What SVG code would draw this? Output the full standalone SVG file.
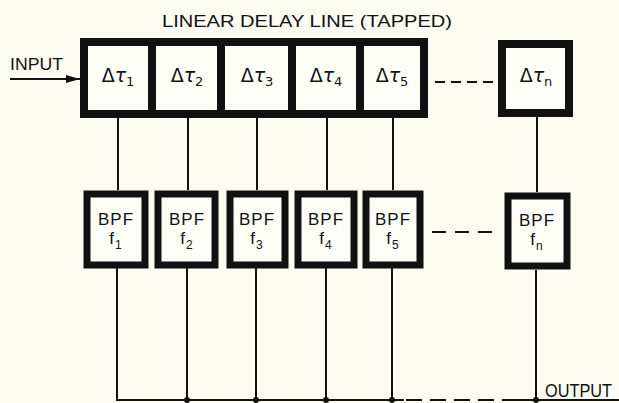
<svg xmlns="http://www.w3.org/2000/svg" width="619" height="403" viewBox="0 0 619 403">
  <defs>
    <style>
      .box { fill: #fefef8; stroke: #111; stroke-width: 8; }
      .bpf { fill: #fefef8; stroke: #111; stroke-width: 7; }
      .wire { stroke: #111; stroke-width: 2; fill: none; }
      .dash { stroke: #111; stroke-width: 2; fill: none; }
      .lbl { font-family: "Liberation Sans", Arial, sans-serif; fill: #111; }
      .dt { font-family: "DejaVu Sans", "Liberation Sans", sans-serif; font-size: 19px; fill: #111; }
      .tau { font-style: italic; }
      .sub { font-size: 13px; font-style: normal; }
      .bp { font-family: "Liberation Sans", Arial, sans-serif; font-size: 17px; fill: #111; text-anchor: middle; letter-spacing: 1px; }
      .dot { fill: #111; }
    </style>
    <marker id="arrow" markerWidth="14" markerHeight="10" refX="14" refY="5" orient="auto" markerUnits="userSpaceOnUse">
      <path d="M0,1 L14,5 L0,9 Z" fill="#111"/>
    </marker>
  </defs>
  <rect width="619" height="403" fill="#fcfcf3"/>

  <text class="lbl" x="162" y="27" font-size="17" textLength="290" lengthAdjust="spacingAndGlyphs">LINEAR DELAY LINE (TAPPED)</text>
  <text class="lbl" x="10" y="70" font-size="16" textLength="53" lengthAdjust="spacingAndGlyphs">INPUT</text>
  <text class="lbl" x="545" y="397" font-size="18" textLength="67" lengthAdjust="spacingAndGlyphs">OUTPUT</text>

  <g id="connectors">
    <line class="wire" x1="10" y1="79" x2="80" y2="79" marker-end="url(#arrow)"/>
    <line class="wire" x1="118" y1="114" x2="118" y2="190"/>
    <line class="wire" x1="188" y1="114" x2="188" y2="190"/>
    <line class="wire" x1="257" y1="114" x2="257" y2="190"/>
    <line class="wire" x1="327" y1="114" x2="327" y2="190"/>
    <line class="wire" x1="393" y1="114" x2="393" y2="190"/>
    <line class="wire" x1="537" y1="116" x2="537" y2="192"/>
    <line class="wire" x1="117" y1="268" x2="117" y2="400"/>
    <line class="wire" x1="187" y1="268" x2="187" y2="400"/>
    <line class="wire" x1="256" y1="268" x2="256" y2="400"/>
    <line class="wire" x1="326" y1="268" x2="326" y2="400"/>
    <line class="wire" x1="392" y1="268" x2="392" y2="400"/>
    <line class="wire" x1="536" y1="270" x2="536" y2="400"/>
    <line class="wire" x1="116" y1="400" x2="404" y2="400" stroke-width="2.5"/>
    <line class="dash" x1="406" y1="400" x2="496" y2="400" stroke-width="2.5" stroke-dasharray="16,8"/>
    <line class="wire" x1="502" y1="400" x2="619" y2="400" stroke-width="2.5"/>
    <circle class="dot" cx="187" cy="400" r="3"/>
    <circle class="dot" cx="256" cy="400" r="3"/>
    <circle class="dot" cx="326" cy="400" r="3"/>
    <circle class="dot" cx="392" cy="400" r="3"/>
    <circle class="dot" cx="536" cy="400" r="3"/>
    <line class="dash" x1="435" y1="82" x2="493" y2="82" stroke-dasharray="10,6"/>
    <line class="dash" x1="432" y1="232" x2="498" y2="232" stroke-dasharray="14,9"/>
  </g>

  <g id="delay1">
    <rect class="box" x="84" y="42" width="68" height="72"/>
    <text class="dt" x="118" y="82" text-anchor="middle">Δ<tspan class="tau">τ</tspan><tspan class="sub" dy="4">1</tspan></text>
  </g>
  <g id="delay2">
    <rect class="box" x="152" y="42" width="69" height="72"/>
    <text class="dt" x="187" y="82" text-anchor="middle">Δ<tspan class="tau">τ</tspan><tspan class="sub" dy="4">2</tspan></text>
  </g>
  <g id="delay3">
    <rect class="box" x="221" y="42" width="71" height="72"/>
    <text class="dt" x="257" y="82" text-anchor="middle">Δ<tspan class="tau">τ</tspan><tspan class="sub" dy="4">3</tspan></text>
  </g>
  <g id="delay4">
    <rect class="box" x="292" y="42" width="68" height="72"/>
    <text class="dt" x="326" y="82" text-anchor="middle">Δ<tspan class="tau">τ</tspan><tspan class="sub" dy="4">4</tspan></text>
  </g>
  <g id="delay5">
    <rect class="box" x="360" y="42" width="64" height="72"/>
    <text class="dt" x="392" y="82" text-anchor="middle">Δ<tspan class="tau">τ</tspan><tspan class="sub" dy="4">5</tspan></text>
  </g>
  <g id="delayn">
    <rect class="box" x="502" y="44" width="67" height="69"/>
    <text class="dt" x="536" y="82" text-anchor="middle">Δ<tspan class="tau">τ</tspan><tspan class="sub" dy="4">n</tspan></text>
  </g>

  <g id="bpf1">
    <rect class="bpf" x="87" y="194" width="58" height="71"/>
    <text class="bp" x="116" y="225">BPF</text>
    <text class="bp" x="116" y="244" font-size="15">f<tspan font-size="12" dy="5">1</tspan></text>
  </g>
  <g id="bpf2">
    <rect class="bpf" x="158" y="194" width="57" height="71"/>
    <text class="bp" x="187" y="225">BPF</text>
    <text class="bp" x="187" y="244" font-size="15">f<tspan font-size="12" dy="5">2</tspan></text>
  </g>
  <g id="bpf3">
    <rect class="bpf" x="230" y="194" width="55" height="71"/>
    <text class="bp" x="257" y="225">BPF</text>
    <text class="bp" x="257" y="244" font-size="15">f<tspan font-size="12" dy="5">3</tspan></text>
  </g>
  <g id="bpf4">
    <rect class="bpf" x="298" y="194" width="56" height="71"/>
    <text class="bp" x="326" y="225">BPF</text>
    <text class="bp" x="326" y="244" font-size="15">f<tspan font-size="12" dy="5">4</tspan></text>
  </g>
  <g id="bpf5">
    <rect class="bpf" x="366" y="194" width="54" height="71"/>
    <text class="bp" x="393" y="225">BPF</text>
    <text class="bp" x="393" y="244" font-size="15">f<tspan font-size="12" dy="5">5</tspan></text>
  </g>
  <g id="bpfn">
    <rect class="bpf" x="508" y="196" width="59" height="70"/>
    <text class="bp" x="537" y="226">BPF</text>
    <text class="bp" x="537" y="245" font-size="15">f<tspan font-size="12" dy="5">n</tspan></text>
  </g>
</svg>
